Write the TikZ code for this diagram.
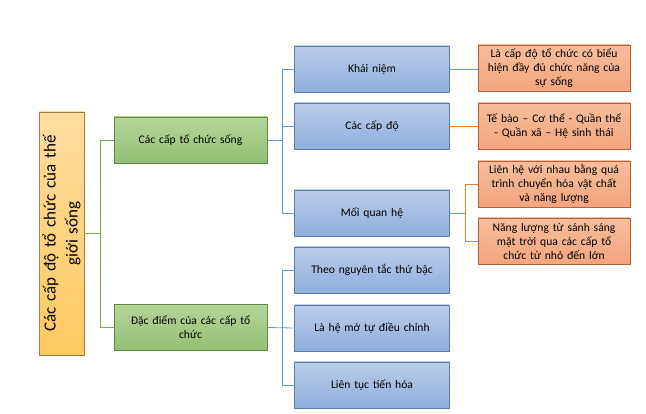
\documentclass[tikz,border=0pt]{standalone}
\usepackage{fontspec}
\setmainfont{Carlito}
\usepackage{tikz}
\usepackage{xcolor}
\usetikzlibrary{calc}
\definecolor{roottop}{HTML}{FFDDA0}
\definecolor{rootbot}{HTML}{FFC960}
\definecolor{rootline}{HTML}{9C7F3A}
\definecolor{greentop}{HTML}{B4D59A}
\definecolor{greenbot}{HTML}{92C075}
\definecolor{greenline}{HTML}{5E8C3E}
\definecolor{greenlink}{HTML}{70AD47}
\definecolor{bluetop}{HTML}{B9CDEA}
\definecolor{bluebot}{HTML}{8FAFDC}
\definecolor{blueline}{HTML}{5B7BA8}
\definecolor{bluelink}{HTML}{5B9BD5}
\definecolor{orangetop}{HTML}{F8BD9C}
\definecolor{orangebot}{HTML}{F3A47E}
\definecolor{orangeline}{HTML}{B4603A}
\definecolor{orangelink}{HTML}{ED7D31}
\newcommand{\smalltext}{\fontsize{11.6}{14}\selectfont}
\tikzstyle{rootbox} = [
    draw=rootline,
    top color=roottop,
    bottom color=rootbot,
    rotate=90,
    minimum width=243pt,
    minimum height=45pt,
    text width=232pt,
    align=center,
    font=\fontsize{17}{22}\selectfont
    ]
\tikzstyle{greenbox} = [
    draw=greenline,
    top color=greentop,
    bottom color=greenbot,
    minimum width=153pt,
    minimum height=46pt,
    text width=145pt,
    align=center,
    font=\smalltext
    ]
\tikzstyle{bluebox} = [
    draw=blueline,
    top color=bluetop,
    bottom color=bluebot,
    minimum width=152pt,
    minimum height=46pt,
    text width=148pt,
    align=center,
    font=\smalltext
    ]
\tikzstyle{orangebox} = [
    draw=orangeline,
    top color=orangetop,
    bottom color=orangebot,
    minimum width=152pt,
    minimum height=46pt,
    text width=152pt,
    inner xsep=0pt,
    align=center,
    font=\smalltext
    ]
\tikzstyle{greenwire} = [draw=greenlink, line width=0.8pt]
\tikzstyle{bluewire} = [draw=bluelink, line width=0.8pt]
\tikzstyle{orangewire} = [draw=orangelink, line width=0.8pt]

\begin{document}
\begin{tikzpicture}[x=1pt, y=-1pt]
\useasboundingbox (0,0) rectangle (646,414);

\node [rootbox] (root) at (61.5,233.5) {Các cấp độ tổ chức của thế\\ giới sống};

\node [greenbox] (levels) at (190.5,140) {Các cấp tổ chức sống};
\node [greenbox] (traits) at (190.5,327.5) {Đặc điểm của các cấp tổ\\ chức};

\node [bluebox] (concept) at (372,69) {Khái niệm};
\node [bluebox] (grades) at (372,126) {Các cấp độ};
\node [bluebox] (relation) at (372,213) {Mối quan hệ};
\node [bluebox] (order) at (372,270) {Theo nguyên tắc thứ bậc};
\node [bluebox] (open) at (372,328) {Là hệ mở tự điều chỉnh};
\node [bluebox] (evolve) at (372,385) {Liên tục tiến hóa};

\node [orangebox] (def) at (554,68) {Là cấp độ tổ chức có biểu\\ hiện đầy đủ chức năng của\\ sự sống};
\node [orangebox] (list) at (554,126) {Tế bào – Cơ thể - Quần thể\\ - Quần xã – Hệ sinh thái};
\node [orangebox] (link) at (554,184) {Liên hệ với nhau bằng quá\\ trình chuyển hóa vật chất\\ và năng lượng};
\node [orangebox] (energy) at (554,241) {Năng lượng từ sánh sáng\\ mặt trời qua các cấp tổ\\ chức từ nhỏ đến lớn};

% root -> level 1
\coordinate (rootfork) at ($(root.south)+(16,0)$);
\draw [greenwire] (root.south) -- (rootfork) |- (levels.west);
\draw [greenwire] (rootfork) |- (traits.west);

% level 1 -> level 2
\coordinate (levelsfork) at ($(levels.east)+(15,0)$);
\draw [bluewire] (levels.east) -- (levelsfork);
\draw [bluewire] (levelsfork) |- (concept.west);
\draw [bluewire] (levelsfork) |- (grades.west);
\draw [bluewire] (levelsfork) |- (relation.west);
\coordinate (traitsfork) at ($(traits.east)+(15,0)$);
\draw [bluewire] (traits.east) -- (open.west);
\draw [bluewire] (traitsfork) |- (order.west);
\draw [bluewire] (traitsfork) |- (evolve.west);

% level 2 -> level 3
\draw [orangewire] (concept.east) -- (concept.east -| def.west);
\draw [orangewire] (grades.east) -- (list.west);
\coordinate (relfork) at ($(relation.east)+(16,0)$);
\draw [orangewire] (relation.east) -- (relfork);
\draw [orangewire] (relfork) |- (link.west);
\draw [orangewire] (relfork) |- (energy.west);
\end{tikzpicture}
\end{document}
